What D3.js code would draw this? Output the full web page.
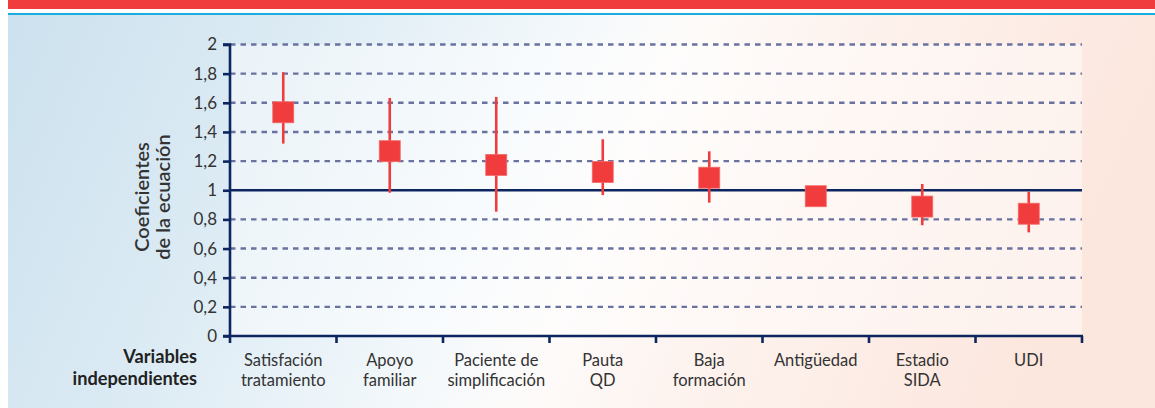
<!DOCTYPE html>
<html><head><meta charset="utf-8">
<script src="https://cdn.jsdelivr.net/npm/d3@7"></script>
<style>html,body{margin:0;padding:0;background:#fff;}svg{display:block;}</style>
</head><body>
<script>
const categories = [["Satisfación","tratamiento"],["Apoyo","familiar"],["Paciente de","simplificación"],["Pauta","QD"],["Baja","formación"],["Antigüedad"],["Estadio","SIDA"],["UDI"]];
const estimates = [1.535, 1.268, 1.174, 1.125, 1.086, 0.959, 0.888, 0.839];
const lower =     [1.32, 0.983, 0.853, 0.967, 0.915, 0.94, 0.76, 0.711];
const upper =     [1.81, 1.633, 1.64, 1.35, 1.267, 0.98, 1.043, 0.99];
const yTicks = [0, 0.2, 0.4, 0.6, 0.8, 1, 1.2, 1.4, 1.6, 1.8, 2];
const yTitle = ["Coeficientes", "de la ecuación"];
const xTitle = ["Variables", "independientes"];

const W = 1155, H = 408;
const svg = d3.select("body").append("svg").attr("width", W).attr("height", H);
const defs = svg.append("defs");
const g1 = defs.append("linearGradient").attr("id","bg").attr("x1","0").attr("x2","1").attr("y1","0").attr("y2","0.15");
[["0%","#cce1ee"],["25%","#dcebf4"],["48%","#f3f8fb"],["58%","#fdfbfa"],["75%","#fdf1ec"],["100%","#fce7de"]].forEach(s=>g1.append("stop").attr("offset",s[0]).attr("stop-color",s[1]));

const FONT = "Lato,'Noto Sans',sans-serif";

// header bars
svg.append("rect").attr("x",8).attr("y",0).attr("width",W-8).attr("height",9).attr("fill","#f03c3c");
svg.append("rect").attr("x",8).attr("y",13).attr("width",W-8).attr("height",2).attr("fill","#1aaee0");
svg.append("rect").attr("x",8).attr("y",15).attr("width",W-8).attr("height",H-15).attr("fill","url(#bg)");

const m = {left:230, right:1082, top:44.5, bottom:336};
const x = d3.scaleBand().domain(d3.range(categories.length)).range([m.left, m.right]).paddingInner(0).paddingOuter(0);
const y = d3.scaleLinear().domain([0,2]).range([m.bottom, m.top]);

// plot area lighter fill
svg.append("rect").attr("x",m.left).attr("y",m.top).attr("width",m.right-m.left).attr("height",m.bottom-m.top).attr("fill","rgba(255,255,255,0.45)");

// grid
svg.append("g").selectAll("line").data(yTicks.filter(t=>t!==0 && t!==1)).join("line")
  .attr("x1",m.left).attr("x2",m.right).attr("y1",d=>y(d)).attr("y2",d=>y(d))
  .attr("stroke","#6a72a0").attr("stroke-width",2.4).attr("stroke-dasharray","5.5,5");
svg.append("line").attr("x1",m.left).attr("x2",m.right).attr("y1",y(1)).attr("y2",y(1))
  .attr("stroke","#0d2660").attr("stroke-width",2.4);

// axes
const yAxis = d3.axisLeft(y).tickValues(yTicks).tickSize(7).tickPadding(6)
  .tickFormat(d=>String(d).replace(".",","));
const ya = svg.append("g").attr("transform",`translate(${m.left},0)`).call(yAxis);
ya.select(".domain").attr("stroke","#0d2660").attr("stroke-width",2.6).attr("d",`M-7,${m.top}H0V${m.bottom}`);
ya.selectAll(".tick line").attr("stroke","#0d2660").attr("stroke-width",2.6);
ya.selectAll(".tick text").attr("fill","#333").style("font-family",FONT).style("font-size","17px");

const xBounds = d3.range(categories.length+1).map(i=>m.left + i*x.bandwidth());
const xa = svg.append("g");
xa.append("line").attr("x1",m.left-7).attr("x2",m.right+1).attr("y1",m.bottom).attr("y2",m.bottom).attr("stroke","#0d2660").attr("stroke-width",2.6);
xa.selectAll(".xt").data(xBounds).join("line").attr("class","xt")
  .attr("x1",d=>d).attr("x2",d=>d).attr("y1",m.bottom).attr("y2",m.bottom+7)
  .attr("stroke","#0d2660").attr("stroke-width",2.6);

// category labels
const cl = svg.append("g").selectAll("text").data(categories).join("text")
  .attr("x",(d,i)=>x(i)+x.bandwidth()/2).attr("y",366)
  .attr("text-anchor","middle").attr("fill","#333")
  .style("font-family",FONT).style("font-size","16.5px");
cl.selectAll("tspan").data(d=>d).join("tspan")
  .attr("x",function(){return this.parentNode.getAttribute("x");})
  .attr("dy",(d,i)=>i===0?0:19.5).text(d=>d);

// x title
const xt = svg.append("text").attr("x",197).attr("y",363).attr("text-anchor","end")
  .attr("fill","#222").style("font-family",FONT).style("font-size","18.2px").style("font-weight","bold");
xt.selectAll("tspan").data(xTitle).join("tspan").attr("x",197).attr("dy",(d,i)=>i===0?0:21.5).text(d=>d);

// y title
const yt = svg.append("text").attr("transform","translate(149,197) rotate(-90)").attr("text-anchor","middle")
  .attr("fill","#333").style("font-family",FONT).style("font-size","20px").style("font-weight","600");
yt.selectAll("tspan").data(yTitle).join("tspan").attr("x",0).attr("dy",(d,i)=>i===0?0:21).text(d=>d);

// marks
const marks = svg.append("g");
const cx = i => x(i)+x.bandwidth()/2;
marks.selectAll(".wh").data(estimates).join("line").attr("class","wh")
  .attr("x1",(d,i)=>cx(i)).attr("x2",(d,i)=>cx(i))
  .attr("y1",(d,i)=>y(upper[i])).attr("y2",(d,i)=>y(lower[i]))
  .attr("stroke","#f03c3c").attr("stroke-width",2.6);
const S = 21;
marks.selectAll(".sq").data(estimates).join("rect").attr("class","sq")
  .attr("x",(d,i)=>cx(i)-S/2).attr("y",d=>y(d)-S/2).attr("width",S).attr("height",S)
  .attr("fill","#f03c3c").attr("stroke","#f46a6a").attr("stroke-width",0.8);
</script>
</body></html>
